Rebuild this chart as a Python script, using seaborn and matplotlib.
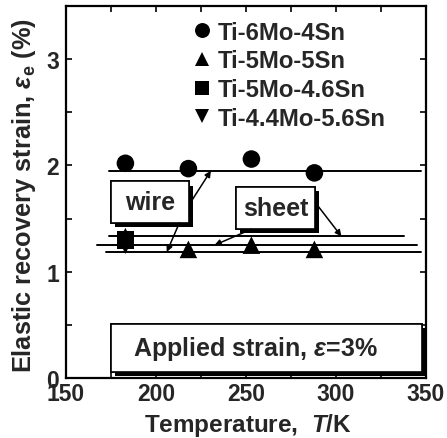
import numpy as np
import pandas as pd
import matplotlib
matplotlib.use("Agg")
import matplotlib.pyplot as plt
import matplotlib.patheffects as pe
from matplotlib.patches import FancyBboxPatch
from matplotlib.ticker import MultipleLocator
import seaborn as sns

# Measured elastic recovery strain (%) vs temperature (K)
alloys = ["Ti-6Mo-4Sn", "Ti-5Mo-5Sn", "Ti-5Mo-4.6Sn", "Ti-4.4Mo-5.6Sn"]
temp_6Mo4Sn = [183, 218, 253, 288]
strain_6Mo4Sn = [2.02, 1.97, 2.06, 1.93]
temp_5Mo5Sn = [183, 218, 253, 288]
strain_5Mo5Sn = [1.33, 1.21, 1.25, 1.21]
temp_5Mo46Sn = [183]
strain_5Mo46Sn = [1.30]
temp_44Mo56Sn = [183]
strain_44Mo56Sn = [1.25]

# Mean recovery levels drawn as horizontal guides (start T, end T, level)
level_values = [1.95, 1.333, 1.25, 1.186]
level_start = [174, 174, 167, 172]
level_end = [347, 338, 345, 347]

marker_map = {"Ti-6Mo-4Sn": "o", "Ti-5Mo-5Sn": "^",
              "Ti-5Mo-4.6Sn": "s", "Ti-4.4Mo-5.6Sn": "v"}

df = pd.concat([
    pd.DataFrame({"T": temp_6Mo4Sn, "strain": strain_6Mo4Sn, "alloy": alloys[0]}),
    pd.DataFrame({"T": temp_5Mo5Sn, "strain": strain_5Mo5Sn, "alloy": alloys[1]}),
    pd.DataFrame({"T": temp_5Mo46Sn, "strain": strain_5Mo46Sn, "alloy": alloys[2]}),
    pd.DataFrame({"T": temp_44Mo56Sn, "strain": strain_44Mo56Sn, "alloy": alloys[3]}),
], ignore_index=True)

lines_df = pd.concat([
    pd.DataFrame({"T": [s, e], "strain": [v, v], "lvl": i})
    for i, (v, s, e) in enumerate(zip(level_values, level_start, level_end))
], ignore_index=True)

sns.set_theme(style="ticks")
plt.rcParams["font.family"] = ["Liberation Sans", "DejaVu Sans"]
plt.rcParams["font.weight"] = "bold"
plt.rcParams["mathtext.fontset"] = "custom"
plt.rcParams["mathtext.rm"] = "Liberation Sans:bold"
plt.rcParams["mathtext.it"] = "Liberation Sans:bold:italic"
plt.rcParams["mathtext.bf"] = "Liberation Sans:bold"

fig = plt.figure(figsize=(4.47, 4.39), dpi=100)
ax = fig.add_axes([66 / 447, 60 / 439, 360 / 447, 372 / 439])

sns.lineplot(data=lines_df, x="T", y="strain", units="lvl", estimator=None,
             color="black", lw=1.4, ax=ax, legend=False)

sns.scatterplot(data=df, x="T", y="strain", style="alloy", style_order=alloys,
                markers=marker_map, color="black", edgecolor="black",
                s=160, linewidth=0, ax=ax, legend=True, zorder=3)

ax.set_xlim(150, 350)
ax.set_ylim(0, 3.5)
ax.xaxis.set_major_locator(MultipleLocator(50))
ax.xaxis.set_minor_locator(MultipleLocator(25))
ax.yaxis.set_major_locator(MultipleLocator(1))
ax.yaxis.set_minor_locator(MultipleLocator(0.5))
ax.tick_params(which="both", direction="in", top=True, right=True,
               width=1.4, length=4.5, labelsize=16.5)
ax.tick_params(axis="y", pad=5)
ax.tick_params(axis="x", pad=3)
for sp in ax.spines.values():
    sp.set_linewidth(1.6)
    sp.set_color("black")
for lab in ax.get_xticklabels() + ax.get_yticklabels():
    lab.set_fontweight("bold")

ax.set_xlabel("Temperature,  $T$/K", fontsize=17.5, fontweight="bold")
ax.set_ylabel(r"Elastic recovery strain, $\varepsilon_{\rm e}$ (%)",
              fontsize=18.3, fontweight="bold")
ax.xaxis.set_label_coords((248 - 66) / 360, (379 - 412) / 372)
ax.yaxis.set_label_coords((38 - 66) / 360, (379 - 196) / 372)

# legend: marker symbols with alloy names, no frame
handles, labels = ax.get_legend_handles_labels()
leg = ax.legend(handles, labels, loc="upper left",
                bbox_to_anchor=((180 - 66) / 360, (379 - 12) / 372),
                frameon=False, fontsize=17.2, handletextpad=0.17,
                labelspacing=0.24, borderaxespad=0, handlelength=1.0,
                markerscale=0.85)
for t in leg.get_texts():
    t.set_fontweight("bold")

shadow = [pe.withSimplePatchShadow(offset=(3, -3), shadow_rgbFace="black",
                                   alpha=1.0), pe.Normal()]


def boxed(x0, y0, x1, y1, text, fs, tx=None):
    patch = FancyBboxPatch((x0, y0), x1 - x0, y1 - y0,
                           boxstyle="square,pad=0", fc="white", ec="black",
                           lw=1.2, zorder=4, path_effects=shadow)
    ax.add_patch(patch)
    cx = (x0 + x1) / 2 if tx is None else tx
    ax.text(cx, (y0 + y1) / 2, text, ha="center", va="center",
            fontsize=fs, fontweight="bold", zorder=5)


boxed(175, 1.46, 218.5, 1.85, "wire", 18)
boxed(244.5, 1.40, 288.5, 1.80, "sheet", 18)
boxed(175, 0.06, 348, 0.51, r"Applied strain, $\varepsilon$=3%", 18, tx=255)

arrow = dict(arrowstyle="-|>", color="black", lw=1.1,
             mutation_scale=9, shrinkA=0, shrinkB=0)
ax.annotate("", xy=(230.5, level_values[0]), xytext=(219.5, 1.66),
            arrowprops=arrow, zorder=6)
ax.annotate("", xy=(206, level_values[3]), xytext=(213, 1.46),
            arrowprops=arrow, zorder=6)
ax.annotate("", xy=(232.5, level_values[2]), xytext=(253, 1.40),
            arrowprops=arrow, zorder=6)
ax.annotate("", xy=(303, level_values[1]), xytext=(289, 1.64),
            arrowprops=arrow, zorder=6)

fig.savefig("out.png", dpi=100)
